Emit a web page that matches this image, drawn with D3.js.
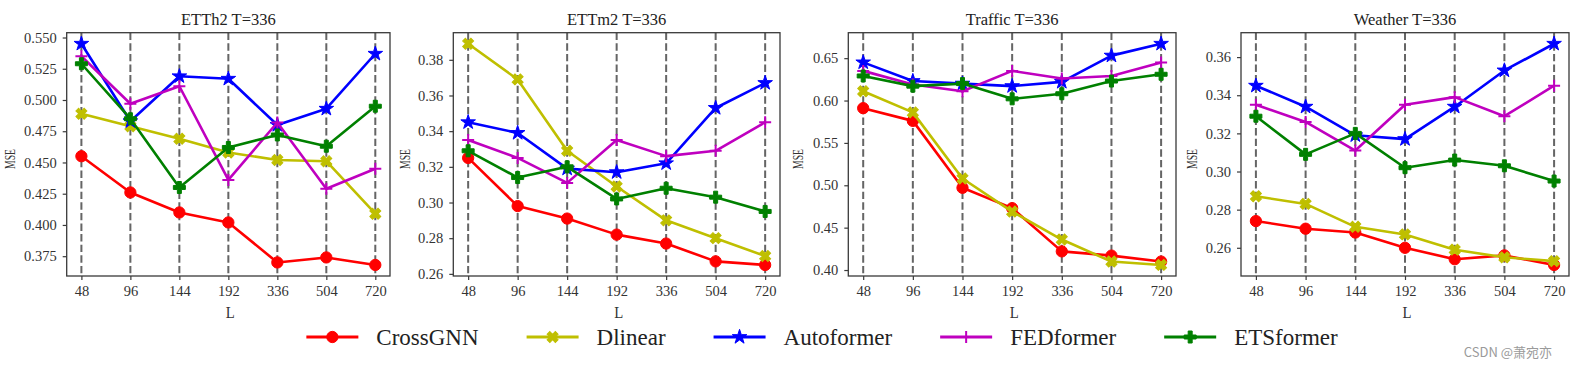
<!DOCTYPE html>
<html>
<head>
<meta charset="utf-8">
<script src="https://cdn.jsdelivr.net/npm/d3@7"></script>
<style>
  html, body { margin: 0; padding: 0; background: #fff; }
  svg { display: block; }
  text { font-family: "Liberation Serif", "Times New Roman", serif; }
</style>
</head>
<body>
<svg id="chart" width="1578" height="367"></svg>
<script>
// ---------------- DATA ----------------
const lookbacks = ["48", "96", "144", "192", "336", "504", "720"];
const models = ["CrossGNN", "Dlinear", "Autoformer", "FEDformer", "ETSformer"];
const datasets = ["ETTh2", "ETTm2", "Traffic", "Weather"];
const titles = ["ETTh2 T=336", "ETTm2 T=336", "Traffic T=336", "Weather T=336"];

// ETTh2
const etth2CrossGNN   = [0.455, 0.426, 0.410, 0.402, 0.370, 0.374, 0.368];
const etth2Dlinear    = [0.489, 0.479, 0.469, 0.458, 0.452, 0.451, 0.409];
const etth2Autoformer = [0.545, 0.483, 0.519, 0.517, 0.480, 0.493, 0.537];
const etth2FEDformer  = [0.535, 0.497, 0.511, 0.436, 0.482, 0.429, 0.445];
const etth2ETSformer  = [0.529, 0.485, 0.430, 0.462, 0.472, 0.463, 0.495];
// ETTm2
const ettm2CrossGNN   = [0.325, 0.298, 0.291, 0.282, 0.277, 0.267, 0.265];
const ettm2Dlinear    = [0.389, 0.369, 0.329, 0.309, 0.290, 0.280, 0.270];
const ettm2Autoformer = [0.345, 0.339, 0.319, 0.317, 0.322, 0.353, 0.367];
const ettm2FEDformer  = [0.335, 0.325, 0.311, 0.335, 0.326, 0.329, 0.345];
const ettm2ETSformer  = [0.329, 0.314, 0.320, 0.302, 0.308, 0.303, 0.295];
// Traffic
const trafficCrossGNN   = [0.591, 0.576, 0.497, 0.473, 0.422, 0.417, 0.410];
const trafficDlinear    = [0.611, 0.586, 0.508, 0.469, 0.436, 0.410, 0.406];
const trafficAutoformer = [0.645, 0.623, 0.620, 0.617, 0.622, 0.653, 0.667];
const trafficFEDformer  = [0.635, 0.619, 0.611, 0.635, 0.626, 0.629, 0.645];
const trafficETSformer  = [0.629, 0.617, 0.620, 0.602, 0.608, 0.623, 0.631];
// Weather
const weatherCrossGNN   = [0.274, 0.270, 0.268, 0.260, 0.254, 0.256, 0.251];
const weatherDlinear    = [0.287, 0.283, 0.271, 0.267, 0.259, 0.255, 0.253];
const weatherAutoformer = [0.345, 0.334, 0.319, 0.317, 0.334, 0.353, 0.367];
const weatherFEDformer  = [0.335, 0.326, 0.311, 0.335, 0.339, 0.329, 0.345];
const weatherETSformer  = [0.329, 0.309, 0.320, 0.302, 0.306, 0.303, 0.295];

// Y tick labels
const etth2Ticks   = [0.375, 0.400, 0.425, 0.450, 0.475, 0.500, 0.525, 0.550];
const ettm2Ticks   = [0.26, 0.28, 0.30, 0.32, 0.34, 0.36, 0.38];
const trafficTicks = [0.40, 0.45, 0.50, 0.55, 0.60, 0.65];
const weatherTicks = [0.26, 0.28, 0.30, 0.32, 0.34, 0.36];

const seriesByDataset = [
  [etth2CrossGNN, etth2Dlinear, etth2Autoformer, etth2FEDformer, etth2ETSformer],
  [ettm2CrossGNN, ettm2Dlinear, ettm2Autoformer, ettm2FEDformer, ettm2ETSformer],
  [trafficCrossGNN, trafficDlinear, trafficAutoformer, trafficFEDformer, trafficETSformer],
  [weatherCrossGNN, weatherDlinear, weatherAutoformer, weatherFEDformer, weatherETSformer]
];
const ticksByDataset = [etth2Ticks, ettm2Ticks, trafficTicks, weatherTicks];
const tickFormats = [".3f", ".2f", ".2f", ".2f"];
const watermark = "CSDN @萧宛亦";

// ---------------- STYLE / LAYOUT ----------------
const colors = ["#ff0000", "#bfbf00", "#0000ff", "#bf00bf", "#008000"];
const markerKinds = ["circle", "x", "star", "plus", "P"];
const panels = [
  { left: 66.7, right: 390, mseX: 10 },
  { left: 453.3, right: 780, mseX: 405 },
  { left: 848.3, right: 1176, mseX: 798 },
  { left: 1241, right: 1569, mseX: 1192 }
];
const plotTop = 32.7, plotBottom = 276;
const frameColor = "#3a3a3a";
const textColor = "#333";

const svg = d3.select("#chart");

function markerPath(kind) {
  switch (kind) {
    case "circle": return d3.symbol(d3.symbolCircle, 100)();
    case "x": return d3.symbol(d3.symbolCross, 75)();
    case "star": return d3.symbol(d3.symbolStar, 66)();
    case "P": return d3.symbol(d3.symbolCross, 80)();
    case "plus": return "M-6,0H6M0,-6V6";
  }
}
function drawMarker(g, kind, color, x, y) {
  const p = g.append("path")
    .attr("d", markerPath(kind))
    .attr("transform", `translate(${x},${y})` + (kind === "x" ? " rotate(45)" : ""));
  if (kind === "plus") {
    p.attr("fill", "none").attr("stroke", color).attr("stroke-width", 2);
  } else {
    p.attr("fill", color).attr("stroke", color).attr("stroke-width", 1);
  }
}

panels.forEach((pn, di) => {
  const series = seriesByDataset[di];
  const allVals = series.flat();
  const [mn, mx] = d3.extent(allVals);
  const m = (mx - mn) * 0.05;
  const x = d3.scalePoint().domain(lookbacks).range([pn.left, pn.right]).padding(0.3);
  const y = d3.scaleLinear().domain([mn - m, mx + m]).range([plotBottom, plotTop]);

  const g = svg.append("g");

  // vertical dashed lines
  g.append("g").selectAll("line").data(lookbacks).join("line")
    .attr("x1", d => x(d)).attr("x2", d => x(d))
    .attr("y1", plotTop).attr("y2", plotBottom)
    .attr("stroke", "#555").attr("stroke-width", 2)
    .attr("stroke-dasharray", "7.4,3.2").attr("opacity", 0.9);

  // series
  const line = d3.line().x((d, i) => x(lookbacks[i])).y(d => y(d));
  series.forEach((vals, si) => {
    g.append("path").datum(vals)
      .attr("d", line)
      .attr("fill", "none")
      .attr("stroke", colors[si])
      .attr("stroke-width", 2.6)
      .attr("stroke-linejoin", "round");
    const mg = g.append("g");
    vals.forEach((v, i) => drawMarker(mg, markerKinds[si], colors[si], x(lookbacks[i]), y(v)));
  });

  // frame
  g.append("rect")
    .attr("x", pn.left).attr("y", plotTop)
    .attr("width", pn.right - pn.left).attr("height", plotBottom - plotTop)
    .attr("fill", "none").attr("stroke", frameColor).attr("stroke-width", 1.3);

  // axes
  const ax = g.append("g").attr("transform", `translate(0,${plotBottom})`)
    .call(d3.axisBottom(x).tickSize(4).tickPadding(6));
  const ay = g.append("g").attr("transform", `translate(${pn.left},0)`)
    .call(d3.axisLeft(y).tickValues(ticksByDataset[di]).tickFormat(d3.format(tickFormats[di])).tickSize(4).tickPadding(6));
  [ax, ay].forEach(a => {
    a.select(".domain").remove();
    a.selectAll(".tick line").attr("stroke", frameColor).attr("stroke-width", 1.2);
    a.selectAll(".tick text").attr("fill", textColor)
      .style("font-family", '"Liberation Serif", serif').style("font-size", "14.5px");
  });

  // title
  g.append("text")
    .attr("x", (pn.left + pn.right) / 2).attr("y", 25)
    .attr("text-anchor", "middle").attr("fill", "#222")
    .style("font-size", "16.5px")
    .text(titles[di]);

  // x label
  g.append("text")
    .attr("x", (pn.left + pn.right) / 2 + 2).attr("y", 318)
    .attr("text-anchor", "middle").attr("fill", textColor)
    .style("font-size", "17px")
    .attr("textLength", 9).attr("lengthAdjust", "spacingAndGlyphs")
    .text("L");

  // y label
  g.append("text")
    .attr("transform", `translate(${pn.mseX + 5},159) rotate(-90)`)
    .attr("text-anchor", "middle").attr("fill", textColor)
    .style("font-size", "14px")
    .attr("textLength", 20).attr("lengthAdjust", "spacingAndGlyphs")
    .text("MSE");
});

// ---------------- LEGEND ----------------
const legend = svg.append("g");
const legY = 337;
const handleLen = 52, textGap = 18, colSpacing = 48;
const items = [];
let cx = 0;
models.forEach((name, i) => {
  const it = legend.append("g");
  it.append("line").attr("x1", 0).attr("x2", handleLen).attr("y1", 0).attr("y2", 0)
    .attr("stroke", colors[i]).attr("stroke-width", 3);
  drawMarker(it, markerKinds[i], colors[i], handleLen / 2, 0);
  const t = it.append("text").attr("x", handleLen + textGap).attr("y", 0).attr("dy", "0.33em")
    .attr("fill", "#222").style("font-size", "23px").text(name);
  const w = handleLen + textGap + t.node().getComputedTextLength();
  items.push({ it, x: cx });
  cx += w + colSpacing;
});
const totalW = cx - colSpacing;
const startX = 822 - totalW / 2;
items.forEach(d => d.it.attr("transform", `translate(${startX + d.x},${legY})`));

// watermark
svg.append("text")
  .attr("x", 1552).attr("y", 357)
  .attr("text-anchor", "end").attr("fill", "#9a9a9a")
  .style("font-family", '"Noto Sans CJK SC", "Noto Sans", sans-serif')
  .style("font-size", "13px")
  .text(watermark);
</script>
</body>
</html>
